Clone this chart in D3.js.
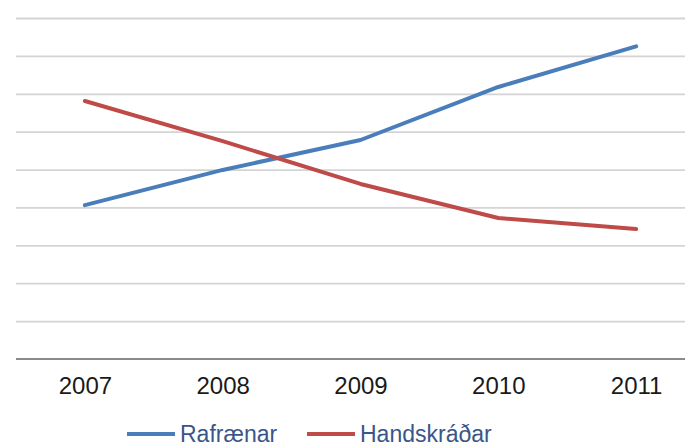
<!DOCTYPE html>
<html>
<head>
<meta charset="utf-8">
<script src="https://cdn.jsdelivr.net/npm/d3@7"></script>
<style>
  body { margin: 0; background: #fff; }
  text { font-family: "Liberation Sans", Arial, sans-serif; }
</style>
</head>
<body>
<div id="chart"></div>
<script>
var years = ["2007", "2008", "2009", "2010", "2011"];
var rafraenar = [4.06, 4.99, 5.78, 7.18, 8.25];
var handskradar = [6.81, 5.75, 4.62, 3.72, 3.43];
var seriesNames = ["Rafrænar", "Handskráðar"];
var seriesColors = ["#4a7ebb", "#be4b48"];

var svgWidth = 685;
var svgHeight = 447;

var svg = d3.select("#chart")
  .append("svg")
  .attr("width", svgWidth)
  .attr("height", svgHeight);

var xScale = d3.scalePoint()
  .domain(years)
  .range([16, 705])
  .padding(0.5);

var yScale = d3.scaleLinear()
  .domain([0, 9])
  .range([359, 18]);

// gridlines
var grid = svg.append("g")
  .attr("transform", "translate(16,0)")
  .call(d3.axisLeft(yScale).ticks(9).tickSize(-700).tickFormat(""));
grid.select(".domain").remove();
grid.selectAll(".tick line")
  .attr("stroke", "#d4d4d4")
  .attr("stroke-width", 1.8)
  .filter(d => d === 0).remove();

// x axis
var xAxis = svg.append("g")
  .attr("transform", "translate(0,359)")
  .call(d3.axisBottom(xScale).tickSize(0).tickPadding(18));
xAxis.select(".domain")
  .attr("d", "M16,0H705")
  .attr("stroke", "#8a8a8a")
  .attr("stroke-width", 1.8);
xAxis.selectAll("text")
  .attr("font-size", 24)
  .attr("fill", "#1a1a1a")
  .attr("font-family", "Liberation Sans, Arial, sans-serif");

var line = d3.line()
  .x((d, i) => xScale(years[i]))
  .y(d => yScale(d));

[rafraenar, handskradar].forEach(function(vals, k) {
  svg.append("path")
    .datum(vals)
    .attr("d", line)
    .attr("fill", "none")
    .attr("stroke", seriesColors[k])
    .attr("stroke-width", 4)
    .attr("stroke-linecap", "round")
    .attr("stroke-linejoin", "round");
});

// legend
var legendX = [127, 307];
seriesNames.forEach(function(name, k) {
  var g = svg.append("g").attr("transform", `translate(${legendX[k]},434)`);
  g.append("line")
    .attr("x1", 0).attr("x2", 48)
    .attr("stroke", seriesColors[k])
    .attr("stroke-width", 4);
  g.append("text")
    .attr("x", 53)
    .attr("y", 8)
    .attr("font-size", 23)
    .attr("fill", "#3a5688")
    .text(name);
});
</script>
</body>
</html>
